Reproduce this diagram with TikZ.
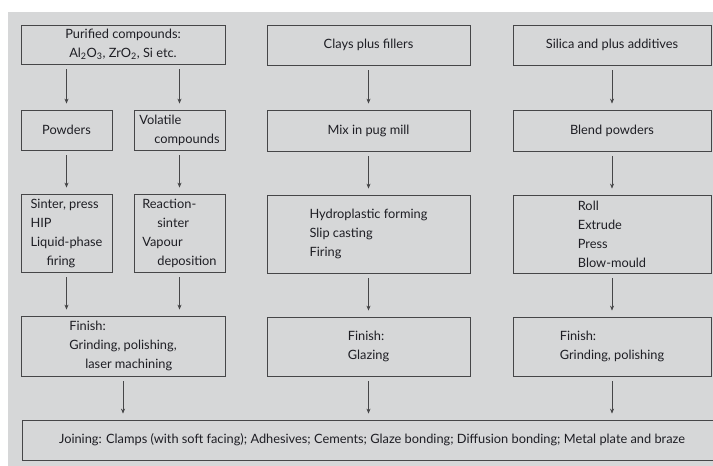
\documentclass[tikz,border=0pt]{standalone}
\usepackage{fontspec}
\setmainfont{Lato}
\usetikzlibrary{arrows.meta}
\definecolor{panel}{RGB}{214,215,216}
\definecolor{ink}{RGB}{30,30,36}
\definecolor{edge}{RGB}{70,70,72}
\begin{document}
\begin{tikzpicture}[x=1pt,y=-1pt,
  box/.style={draw=edge, line width=0.8pt, inner sep=0pt, text=ink,
    align=left, font=\fontsize{12.8}{19}\selectfont},
  cbox/.style={box, align=center},
  arr/.style={draw=edge, line width=0.6pt,
    -{Stealth[length=5pt,width=4pt]}, shorten <=5pt, shorten >=6pt}]
\clip (0,0) rectangle (713,466);
\fill[white] (0,0) rectangle (713,466);
\fill[panel] (8,12) rectangle (713,466);

% ceramics column
\node[cbox, minimum width=204pt, minimum height=39pt] (pur) at (123,44.5)
  {Purified compounds:\\Al\textsubscript{2}O\textsubscript{3}, ZrO\textsubscript{2}, Si etc.};
\node[cbox, minimum width=91pt, minimum height=40pt] (pow) at (66.5,130) {Powders};
\node[box, minimum width=91pt, minimum height=40pt] (vol) at (179.5,130)
  {Volatile\\\hspace*{15pt}compounds};
\node[box, minimum width=91pt, minimum height=78pt] (sin) at (66.5,233)
  {Sinter, press\\HIP\\Liquid-phase\\\hspace*{16pt}firing};
\node[box, minimum width=91pt, minimum height=78pt] (rea) at (179.5,233)
  {Reaction-\\\hspace*{15pt}sinter\\Vapour\\\hspace*{15pt}deposition};
\node[box, minimum width=204pt, minimum height=60pt] (finL) at (123,346)
  {Finish:\\Grinding, polishing,\\\hspace*{16pt}laser machining};

% clay column
\node[cbox, minimum width=203pt, minimum height=40pt] (clay) at (368.5,45) {Clays plus fillers};
\node[cbox, minimum width=203pt, minimum height=41pt] (mix) at (368.5,130.5) {Mix in pug mill};
\node[box, minimum width=203pt, minimum height=78pt] (hyd) at (368.5,234)
  {Hydroplastic forming\\Slip casting\\Firing};
\node[box, minimum width=203pt, minimum height=59pt] (finM) at (368.5,346.5)
  {Finish:\\Glazing};

% glass column
\node[cbox, minimum width=198pt, minimum height=40pt] (sil) at (612,45) {Silica and plus additives};
\node[cbox, minimum width=198pt, minimum height=41pt] (ble) at (612,130.5) {Blend powders};
\node[box, minimum width=198pt, minimum height=78pt] (rol) at (612,234)
  {Roll\\Extrude\\Press\\Blow-mould};
\node[box, minimum width=198pt, minimum height=59pt] (finR) at (612,346.5)
  {Finish:\\Grinding, polishing};

% joining
\node[cbox, minimum width=700pt, minimum height=40pt] (join) at (372,440)
  {Joining: Clamps (with soft facing); Adhesives; Cements; Glaze bonding; Diffusion bonding; Metal plate and braze};

% connectors
\draw[arr] (pow |- pur.south) -- (pow.north);
\draw[arr] (vol |- pur.south) -- (vol.north);
\draw[arr] (pow.south) -- (sin.north);
\draw[arr] (vol.south) -- (rea.north);
\draw[arr] (sin.south) -- (sin.south |- finL.north);
\draw[arr] (rea.south) -- (rea.south |- finL.north);
\draw[arr] (finL.south) -- (finL.south |- join.north);

\draw[arr] (clay.south) -- (mix.north);
\draw[arr] (mix.south) -- (hyd.north);
\draw[arr] (hyd.south) -- (finM.north);
\draw[arr] (finM.south) -- (finM.south |- join.north);

\draw[arr] (sil.south) -- (ble.north);
\draw[arr] (ble.south) -- (rol.north);
\draw[arr] (rol.south) -- (finR.north);
\draw[arr] (finR.south) -- (finR.south |- join.north);
\end{tikzpicture}
\end{document}
